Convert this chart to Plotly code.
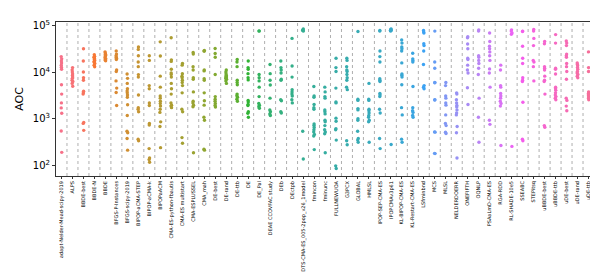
import math
import plotly.graph_objects as go

categories = [
    "adapt-Nelder-Mead-scipy-2019", "ALPS", "BBDE-best", "BBDE-N", "BBDE",
    "BFGS-P-Instances", "BFGS-scipy-2019", "BIPOP-aCMA-STEP", "BIPOP-aCMA-k",
    "BIPOPaACM", "CMA-ES-python-fbautis", "CMA-ES multistart", "CMA-ESPLUSSEL",
    "CMA_mah", "DE-best", "DE-rand", "DE-ttb", "DE", "DE_Pal",
    "DEAE CCOVFAC study", "DEb", "DEctpb", "DTS-CMA-ES_005-2pop_v26_1model",
    "fmincon", "fminunc", "FULLNEWUOA", "G3PCX", "GLOBAL", "HMLSL",
    "IPOP-SEP-CMA-ES", "IPOPCMAv3p61", "KL-BIPOP-CMA-ES", "KL-Restart-CMA-ES",
    "LSfminbnd", "MCS", "MLSL", "NELDERDOERR", "ONEFIFTH", "OQNLP",
    "PSAaLmD-CMA-ES", "RGA-RDD", "RL-SHADE-10e5", "SSEABC", "STEPitsq",
    "uBBDE-best", "uBBDE-ttb", "uDE-best", "uDE-rand", "uDE-ttb",
]

aoc = [
    [21700, 19400, 17400, 15900, 14200, 12800, 11600, 5400, 3390, 2190, 1710, 1310, 546, 189],
    [12600, 11200, 10100, 9200, 8500, 7870, 7390, 6730, 6310, 5750, 5000],
    [32000, 17400, 10100, 7620, 6730, 3900, 3600, 3390, 832, 794, 563],
    [23800, 22000, 20400, 18800, 18000, 16600, 15400, 14200, 13100, 21000, 19500, 17000],
    [27500, 25800, 24300, 22800, 21800, 20400, 19400, 18400, 17600, 23500],
    [28700, 24600, 22700, 21000, 20000, 18800, 11200, 10400, 6520, 4560, 3670, 1930],
    [9180, 7390, 5750, 4410, 3960, 3600, 3240, 2900, 2000, 1170, 537, 498, 376, 211],
    [35100, 31000, 22700, 16600, 13200, 8900, 7870, 3240, 1730, 1600, 1410, 364, 336],
    [22700, 18000, 5160, 4410, 2190, 1930, 794, 735, 228, 143, 132, 116],
    [45100, 22400, 8240, 4780, 3080, 2770, 2370, 2120, 1870, 1600, 1370, 857, 679, 239],
    [55300, 18500, 17100, 11600, 9640, 8920, 7870, 5750, 4410, 3390, 2190, 1960, 1870, 1730],
    [15400, 14200, 9330, 8240, 7620, 6730, 6030, 5160, 3600, 1600, 1410, 393, 297],
    [26500, 24600, 13100, 11200, 7620, 7050, 3780, 2370, 2190, 1960, 1810, 186],
    [29600, 28200, 11200, 10700, 7280, 6730, 3600, 2440, 1960, 1080, 927, 221, 211],
    [32500, 25400, 21000, 8920, 2990, 2640, 2370, 2120, 1930, 1790],
    [11200, 10100, 9180, 8500, 7870, 7390, 7050, 6520, 5750, 8200, 7600],
    [18800, 16600, 13200, 6730, 6030, 5400, 3390, 3130, 2900, 2640, 2370],
    [17400, 12600, 11600, 9330, 7620, 6840, 2480, 2290, 2030, 1930, 1410, 1310, 1080],
    [77500, 76800, 8920, 7620, 6520, 4780, 2990, 2120, 1960, 1810, 1680],
    [14700, 9330, 6730, 5320, 2770, 1550, 1410, 1270, 1170],
    [17400, 12600, 11200, 9640, 7050, 6730, 2560, 2440, 1410, 1330],
    [53500, 13600, 7870, 4220, 3780, 3390, 3080, 2560, 2190],
    [85500, 81600, 79100, 76800, 537, 136],
    [4920, 3080, 2900, 2030, 1730, 1600, 769, 711, 648, 581, 521, 460, 426, 217],
    [4780, 3780, 2990, 2770, 1550, 1410, 1270, 927, 857, 711, 581, 521, 474, 186],
    [20000, 12600, 10400, 4560, 2290, 2190, 1030, 885, 610, 581, 347, 97, 85],
    [20000, 18000, 13200, 11200, 10400, 8920, 7620, 6730, 4780, 4220, 336, 275],
    [75500, 2640, 2480, 1650, 1550, 1000, 927, 537, 376, 347, 311],
    [5750, 2640, 2480, 1600, 1480, 1330, 1170, 1080, 927, 857, 311],
    [79100, 76800, 28700, 21700, 16600, 7280, 6730, 6310, 3490, 3240, 2990, 1600, 1330, 376, 228],
    [85500, 83000, 80500, 79100, 76800, 279],
    [49500, 42400, 35100, 32000, 28700, 15900, 9180, 8630, 7870, 5400, 1730, 1210, 364, 311],
    [25700, 19400, 18000, 16600, 4920, 1730, 1480, 1370, 1170, 1080],
    [79100, 73100, 69800, 41100, 37400, 28700, 14700, 5160, 4780, 4410],
    [76800, 16600, 12200, 6030, 5950, 2560, 2530, 521, 515, 180, 178],
    [6030, 5160, 3080, 2770, 2190, 1960, 1210, 794, 711, 513, 482],
    [3600, 3390, 2560, 2190, 1930, 1790, 1550, 1330, 1210, 679, 498, 143],
    [57900, 55300, 40500, 32000, 20000, 18800, 14200, 11200, 9640, 4630, 2030],
    [81600, 76800, 22700, 21000, 18000, 15400, 12200, 8920, 2770, 1080, 311],
    [69800, 45800, 36300, 32000, 27400, 22700, 18000, 11800, 9640, 4780, 927, 757],
    [14200, 11200, 5160, 4780, 3490, 3080, 2770, 2370, 2120, 1870, 266],
    [81600, 76800, 69800, 65600, 254],
    [76800, 75500, 36300, 20000, 15400, 7620, 6730, 6310, 2260, 364, 336],
    [82900, 76800, 53500, 37400, 18000, 16600, 13200, 6520],
    [45800, 41100, 13200, 12200, 11200, 8240, 6730, 6310, 3390, 711, 658],
    [64600, 42400, 12200, 11600, 9180, 4780, 4410, 4080, 3600, 3240, 2990, 2770, 2560],
    [47300, 42400, 37400, 24600, 22700, 21000, 15400, 13200, 10400, 7050, 2770, 2480, 1870, 1480],
    [15900, 14700, 13800, 12600, 11600, 10400, 9640, 8920, 8240, 7620],
    [27400, 12600, 10400, 3780, 3490, 3240, 2990, 2770, 2560],
]

y_tick_vals = [1e2, 1e3, 1e4, 1e5]
y_tick_text = ["10<sup>2</sup>", "10<sup>3</sup>", "10<sup>4</sup>", "10<sup>5</sup>"]


# ---- seaborn-style HUSL palette ----
_M = [[3.2406, -1.5372, -0.4986], [-0.9689, 1.8758, 0.0415], [0.0557, -0.2040, 1.0570]]
_refU, _refV = 0.19784, 0.46834


def _max_chroma(L, H):
    hrad = math.radians(H)
    sinH, cosH = math.sin(hrad), math.cos(hrad)
    sub1 = (L + 16) ** 3 / 1560896.0
    sub2 = sub1 if sub1 > 0.008856 else L / 903.3
    result = float("inf")
    for m1, m2, m3 in _M:
        top = (0.99915 * m1 + 1.05122 * m2 + 1.14460 * m3) * sub2
        rbottom = 0.86330 * m3 - 0.17266 * m2
        lbottom = 0.12949 * m3 - 0.38848 * m1
        bottom = (rbottom * sinH + lbottom * cosH) * sub2
        for t in (0.0, 1.0):
            C = L * (top - 1.05122 * t) / (bottom + 0.17266 * sinH * t)
            if 0.0 < C < result:
                result = C
    return result


def _husl_to_rgb(h, s, l):
    C = _max_chroma(l, h) / 100.0 * s
    hr = math.radians(h)
    U, V = math.cos(hr) * C, math.sin(hr) * C
    t = (l + 16.0) / 116.0
    varY = t ** 3 if t ** 3 > 0.008856 else (116.0 * t - 16.0) / 903.3
    varU = U / (13.0 * l) + _refU
    varV = V / (13.0 * l) + _refV
    Y = varY
    X = -(9.0 * Y * varU) / ((varU - 4.0) * varV - varU * varV)
    Z = (9.0 * Y - 15.0 * varV * Y - varV * X) / (3.0 * varV)
    out = []
    for row in _M:
        c = row[0] * X + row[1] * Y + row[2] * Z
        c = 12.92 * c if c <= 0.0031308 else 1.055 * c ** (1 / 2.4) - 0.055
        out.append(min(max(c, 0.0), 1.0))
    return "rgb(%d,%d,%d)" % tuple(round(v * 255) for v in out)


def husl_palette(n, h=0.01, s=0.9, l=0.65):
    cols = []
    for i in range(n):
        hue = ((i / n + h) % 1) * 359
        cols.append(_husl_to_rgb(hue, s * 99, l * 99))
    return cols


colors = husl_palette(len(categories))

fig = go.Figure()
for cat, vals, col in zip(categories, aoc, colors):
    fig.add_trace(go.Box(
        x=[cat] * len(vals), y=vals, name=cat,
        boxpoints="all", jitter=0.22, pointpos=0, width=0.4,
        fillcolor="rgba(0,0,0,0)", line=dict(width=0, color="rgba(0,0,0,0)"),
        marker=dict(color=col, size=3.4, line=dict(width=0)),
        showlegend=False, hoveron="points",
    ))

n = len(categories)
for i in range(n - 1):
    fig.add_shape(type="line", xref="x", yref="paper", x0=i + 0.5, x1=i + 0.5,
                  y0=0, y1=1, line=dict(color="#9a9a9a", width=0.8, dash="dot"), layer="below")

fig.update_layout(
    width=598, height=275,
    margin=dict(l=45, r=11, t=11, b=101),
    paper_bgcolor="white", plot_bgcolor="white",
    font=dict(family="DejaVu Sans", color="black"),
    boxmode="overlay",
)
fig.update_xaxes(
    type="category", categoryorder="array", categoryarray=categories,
    range=[-0.5, n - 0.5], tickangle=-90, tickfont=dict(size=5),
    showline=True, mirror=True, linecolor="#333", linewidth=1,
    ticks="outside", ticklen=2, tickwidth=0.6, tickcolor="#333", showgrid=False,
)
fig.update_yaxes(
    type="log", range=[1.768, 5.081], tickvals=y_tick_vals, ticktext=y_tick_text,
    tickfont=dict(size=10), title=dict(text="AOC", font=dict(size=11), standoff=6),
    showline=True, mirror=True, linecolor="#333", linewidth=1,
    ticks="outside", ticklen=3, tickcolor="#333", showgrid=False, zeroline=False,
)
fig.write_html("out.html")
